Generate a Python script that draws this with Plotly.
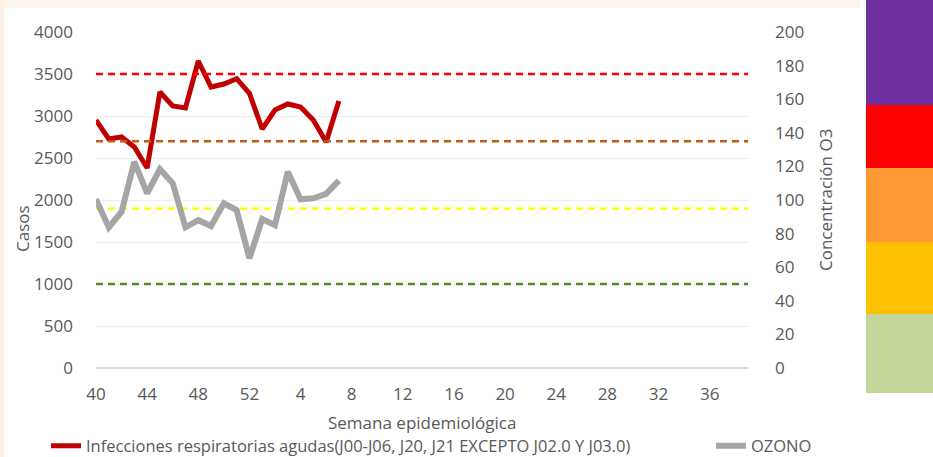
import plotly.graph_objects as go

# ---- data ----
weeks = [str(w) for w in range(40, 53)] + [str(w) for w in range(1, 40)]
casos = [2952, 2726, 2750, 2631, 2381, 3286, 3119, 3095, 3655, 3345,
         3381, 3444, 3270, 2845, 3071, 3143, 3107, 2952, 2690, 3179]
ozono = [100.4, 83.7, 93.0, 122.8, 104.0, 118.3, 110.0, 83.7, 88.0, 84.5,
         98.0, 94.0, 65.3, 88.7, 85.0, 116.8, 100.4, 101.0, 103.6, 111.5]
tick_weeks = [str(w) for w in [40, 44, 48, 52, 4, 8, 12, 16, 20, 24, 28, 32, 36]]
umbrales = [50, 95, 135, 175]
umbral_colores = ["#4F8A2C", "#FFFF00", "#C55A11", "#FF0000"]
serie_casos = "Infecciones respiratorias agudas(J00-J06, J20, J21 EXCEPTO J02.0 Y J03.0)"
serie_ozono = "OZONO"

# ---- geometry (pixels) ----
W, H = 933, 457
L, R, T, B = 96, 748, 32, 368
pw, ph = R - L, B - T

def px(x):
    return (x - L) / pw

def py(y):
    return (B - y) / ph

FONT = "Open Sans"
GREY_TXT = "#595959"
FS = 17
FS_LEG = 16.5

fig = go.Figure()
# threshold reference lines (drawn as traces so they sit above the gridlines)
for v, c in zip(umbrales, umbral_colores):
    fig.add_trace(go.Scatter(x=[weeks[0], weeks[-1]], y=[v, v], mode="lines", yaxis="y2",
                             line=dict(color=c, width=2.5, dash="7px,5px"),
                             showlegend=False, hoverinfo="skip"))
fig.add_trace(go.Scatter(x=weeks[:len(ozono)], y=ozono, name=serie_ozono, mode="lines",
                         line=dict(color="#A5A5A5", width=6), yaxis="y2", legend="legend2"))
fig.add_trace(go.Scatter(x=weeks[:len(casos)], y=casos, name=serie_casos, mode="lines",
                         line=dict(color="#C00000", width=5), yaxis="y", legend="legend"))

shapes = []
# decorative colour scale at the right
bands = [("#7030A0", 0, 105), ("#FF0000", 105, 168), ("#FF9933", 168, 242),
         ("#FFC000", 242, 314), ("#C4D79B", 314, 393)]
for c, y0, y1 in bands:
    shapes.append(dict(type="rect", xref="paper", yref="paper", x0=px(866), x1=px(934),
                       y0=py(y1), y1=py(y0), fillcolor=c, line=dict(width=0), layer="above"))
# faint slide background strips
shapes.append(dict(type="rect", xref="paper", yref="paper", x0=px(0), x1=px(860),
                   y0=py(8), y1=py(-1), fillcolor="#FBF5EE", line=dict(width=0), layer="below"))
shapes.append(dict(type="rect", xref="paper", yref="paper", x0=px(-1), x1=px(4),
                   y0=py(458), y1=py(-1), fillcolor="#FAF0E8", line=dict(width=0), layer="below"))

annotations = [
    dict(text="Casos", xref="paper", yref="paper", x=px(22), y=py(229), textangle=-90,
         showarrow=False, font=dict(family=FONT, size=FS, color=GREY_TXT),
         xanchor="center", yanchor="middle"),
    dict(text="Concentración O3", xref="paper", yref="paper", x=px(825), y=py(200), textangle=-90,
         showarrow=False, font=dict(family=FONT, size=FS, color=GREY_TXT),
         xanchor="center", yanchor="middle"),
    dict(text="Semana epidemiológica", xref="paper", yref="paper", x=px(422), y=py(422),
         showarrow=False, font=dict(family=FONT, size=FS, color=GREY_TXT),
         xanchor="center", yanchor="middle"),
]

legend_common = dict(orientation="h", xanchor="left", yanchor="middle",
                     font=dict(family=FONT, size=FS_LEG, color=GREY_TXT),
                     bgcolor="rgba(0,0,0,0)", itemclick=False, borderwidth=0)

fig.update_layout(
    width=W, height=H,
    margin=dict(l=L, r=W - R, t=T, b=H - B, autoexpand=False),
    paper_bgcolor="white", plot_bgcolor="white",
    font=dict(family=FONT, size=FS, color=GREY_TXT),
    showlegend=True,
    legend=dict(x=px(46), y=py(446), **legend_common),
    legend2=dict(x=px(711), y=py(446), **legend_common),
    xaxis=dict(type="category", categoryorder="array", categoryarray=weeks,
               range=[0, len(weeks) - 1], tickmode="array", tickvals=tick_weeks,
               ticktext=tick_weeks, showgrid=False, showline=False, zeroline=False,
               ticks="", ticklabelstandoff=14,
               tickfont=dict(family=FONT, size=FS, color=GREY_TXT)),
    yaxis=dict(range=[0, 4000], dtick=500, showgrid=True, gridcolor="#EDEDED", gridwidth=1,
               zeroline=True, zerolinecolor="#D9D9D9", zerolinewidth=2,
               showline=False, ticks="", ticklabelstandoff=22,
               tickfont=dict(family=FONT, size=FS, color=GREY_TXT)),
    yaxis2=dict(range=[0, 200], dtick=20, overlaying="y", side="right", showgrid=False,
                zeroline=False, showline=False, ticks="", ticklabelstandoff=26,
                tickfont=dict(family=FONT, size=FS, color=GREY_TXT)),
    shapes=shapes,
    annotations=annotations,
)

fig.write_html("out.html", config={"displayModeBar": False},
               post_script="document.body.style.margin='0';document.body.style.overflow='hidden';")
